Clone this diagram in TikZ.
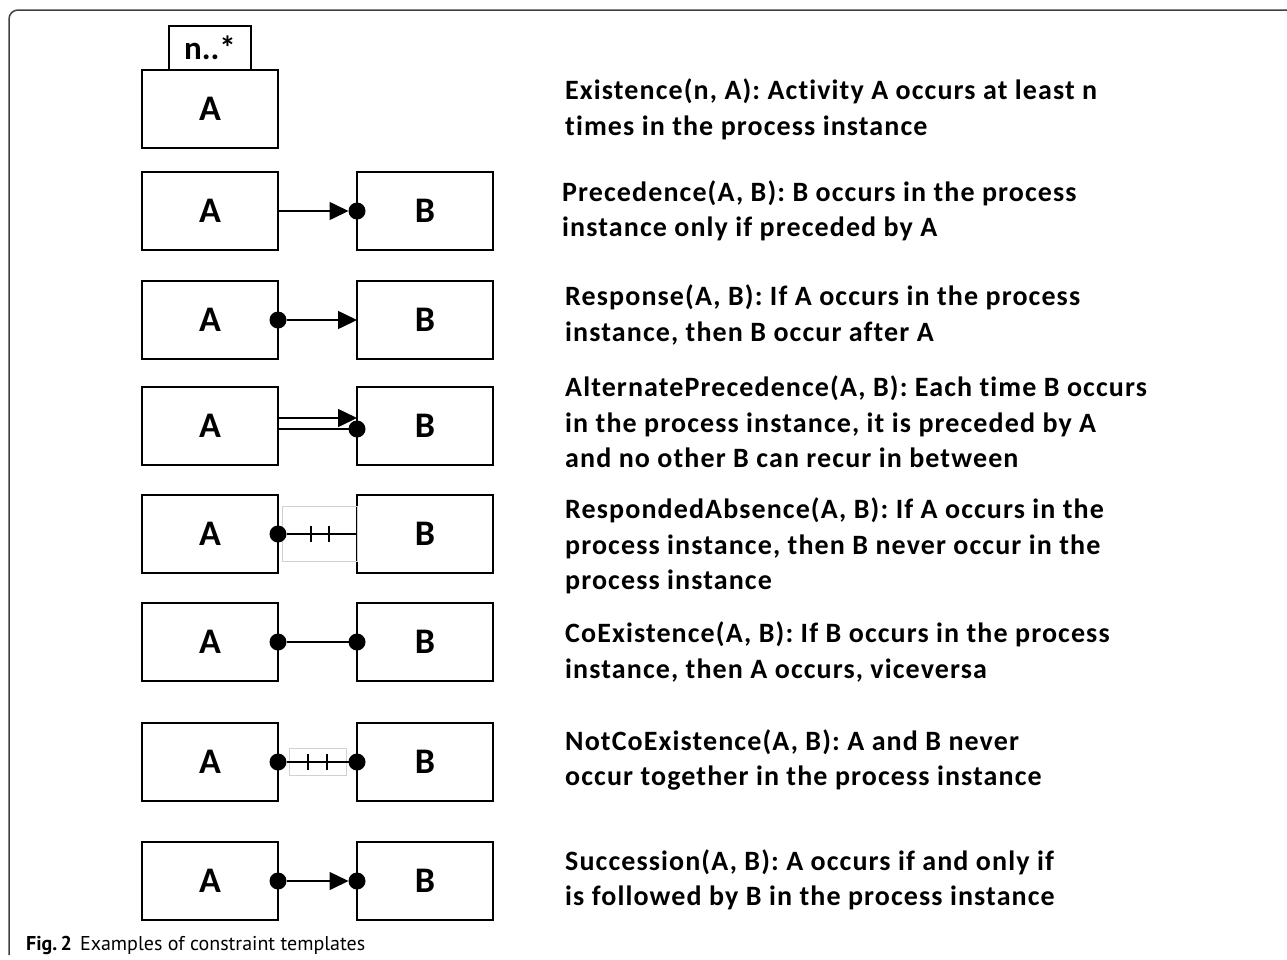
\documentclass[tikz,border=0pt]{standalone}
\usepackage{fontspec}
\setmainfont{Carlito}
\newfontfamily\descfont[LetterSpace=4,Ligatures=NoCommon]{Carlito}
\newfontfamily\capfont{PT Sans}
\usetikzlibrary{arrows.meta}

\tikzset{
  box/.style={draw, line width=1.2pt, outer sep=0pt, inner sep=0pt,
    minimum width=136pt, minimum height=78pt,
    font=\fontsize{36}{36}\selectfont\bfseries},
  mult/.style={box, minimum width=82pt, minimum height=44pt,
    font=\fontsize{33}{33}\selectfont\bfseries},
  dot/.style={circle, fill, inner sep=0pt, outer sep=0pt, minimum size=17pt},
  link/.style={line width=1.6pt},
  arr/.style={link, -{Triangle[length=19pt,width=18pt]}},
  tick/.style={line width=1.4pt},
  hint/.style={draw=black!18, line width=1pt},
  desc/.style={anchor=west, align=left, inner sep=0pt,
    font=\descfont\fontsize{28}{35.5}\selectfont\bfseries},
}

\begin{document}
\begin{tikzpicture}[x=1pt, y=-1pt]
    \useasboundingbox (0,0) rectangle (1287,959);
    % Frame
    \draw[black!75, line width=1.5pt, rounded corners=9pt] (9,955) -- (9,10) -- (1287,10);

    % Boxes
    \node[box] (a1) at (210,109) {A};
    \node[mult, anchor=south] (m1) at (a1.north) {n..*};
    \foreach \r/\y in {2/211,3/320,4/426,5/534,6/642,7/762,8/881} {
        \node[box] (a\r) at (210,\y) {A};
        \node[box] (b\r) at (425,\y) {B};
    }

    % Connectors
    \node[dot] (d2) at (b2.west) {};
    \draw[arr] (a2.east) -- (d2);

    \node[dot] (d3) at (a3.east) {};
    \draw[arr] (d3) -- (b3.west);

    \node[dot] (d4) at ([yshift=-3pt]b4.west) {};
    \draw[arr] ([yshift=8pt]a4.east) -- ([yshift=8pt]b4.west);
    \draw[link] ([yshift=-3pt]a4.east) -- (d4);

    \draw[hint] ([xshift=4pt,yshift=28pt]a5.east) rectangle ([yshift=-27pt]b5.west);
    \node[dot] (d5) at (a5.east) {};
    \draw[link] (d5) -- (b5.west);
    \foreach \dx in {33,51} \draw[tick] ([xshift=\dx pt,yshift=8pt]a5.east) -- ([xshift=\dx pt,yshift=-8pt]a5.east);

    \node[dot] (d6a) at (a6.east) {}; \node[dot] (d6b) at (b6.west) {};
    \draw[link] (d6a) -- (d6b);

    \draw[hint] ([xshift=11pt,yshift=14pt]a7.east) rectangle ([xshift=-11pt,yshift=-13pt]b7.west);
    \node[dot] (d7a) at (a7.east) {}; \node[dot] (d7b) at (b7.west) {};
    \draw[link] (d7a) -- (d7b);
    \foreach \dx in {30,49} \draw[tick] ([xshift=\dx pt,yshift=8pt]a7.east) -- ([xshift=\dx pt,yshift=-8pt]a7.east);

    \node[dot] (d8a) at (a8.east) {}; \node[dot] (d8b) at (b8.west) {};
    \draw[arr] (d8a) -- (d8b);

    % Descriptions
    \node[desc] (t1) at (565,109.5) {Existence(n, A): Activity A occurs at least n\\times in the process instance};
    \node[desc] (t2) at (562,211) {Precedence(A, B): B occurs in the process\\instance only if preceded by A};
    \node[desc] (t3) at (565,315) {Response(A, B): If A occurs in the process\\instance, then B occur after A};
    \node[desc] (t4) at (565,422) {AlternatePrecedence(A, B): Each time B occurs\\in the process instance, it is preceded by A\\and no other B can recur in between};
    \node[desc] (t5) at (565,546) {RespondedAbsence(A, B): If A occurs in the\\process instance, then B never occur in the\\process instance};
    \node[desc] (t6) at (565,652) {CoExistence(A, B): If B occurs in the process\\instance, then A occurs, viceversa};
    \node[desc] (t7) at (565,760) {NotCoExistence(A, B): A and B never\\occur together in the process instance};
    \node[desc] (t8) at (565,880) {Succession(A, B): A occurs if and only if\\is followed by B in the process instance};

    % Caption
    \node[anchor=base west, inner sep=0pt, font=\capfont\fontsize{20}{20}\selectfont] (cap) at (26,950)
        {\textbf{Fig.\,2}\hspace{8pt}Examples of constraint templates};
\end{tikzpicture}
\end{document}
